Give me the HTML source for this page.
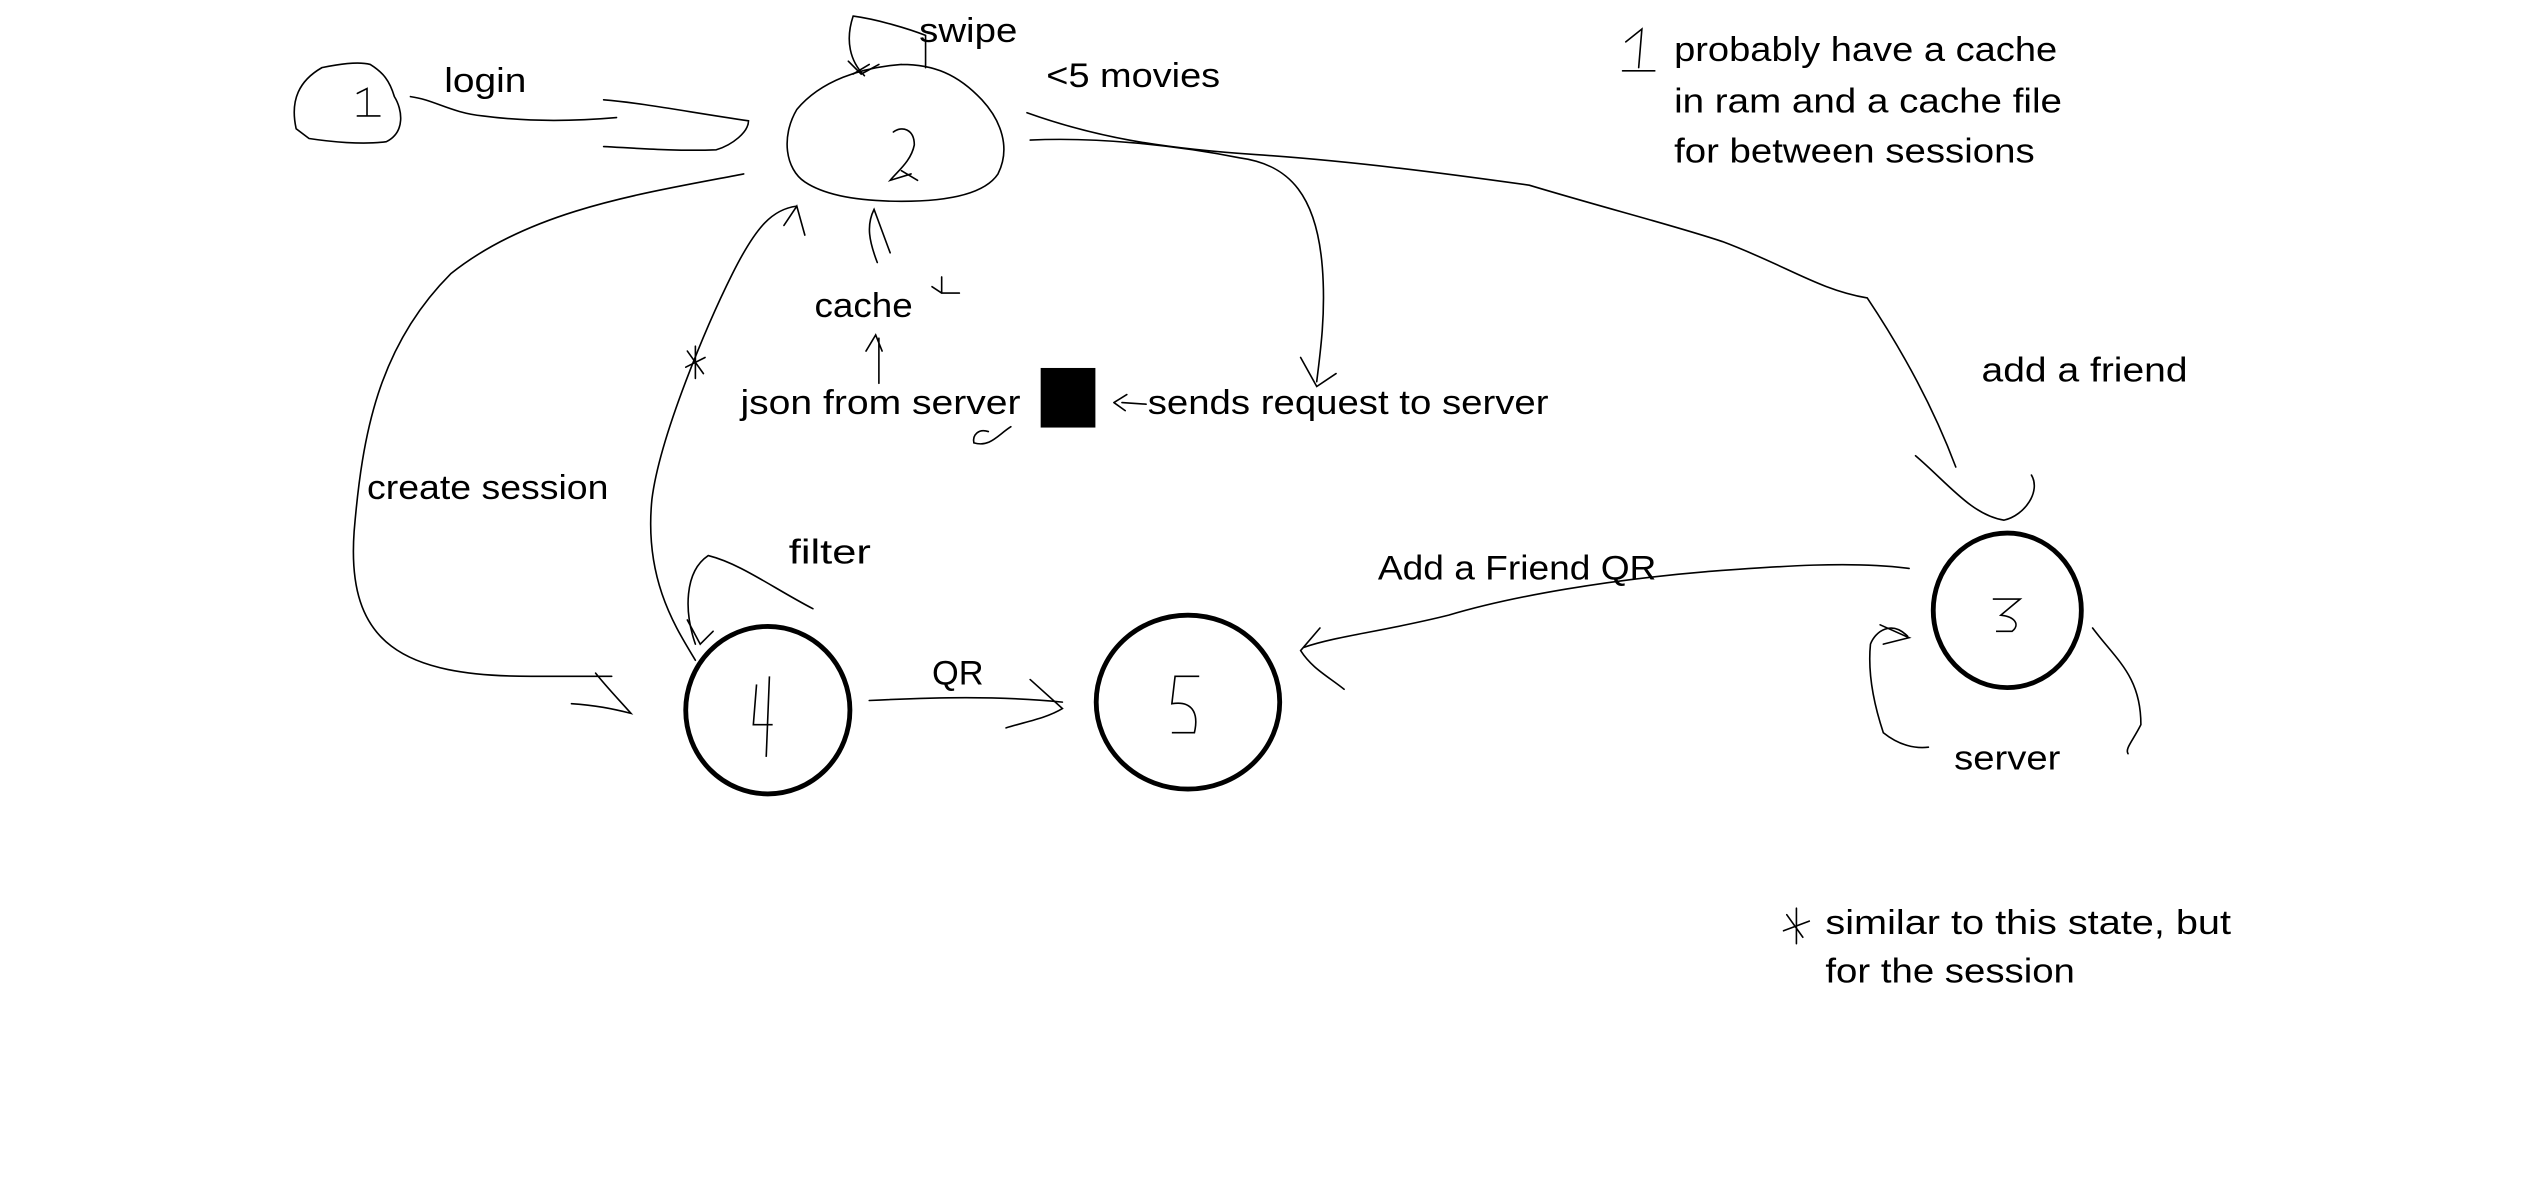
<!DOCTYPE html>
<html><head><meta charset="utf-8"><style>
html,body{margin:0;padding:0;background:#fff;width:2524px;height:1182px;overflow:hidden}
svg{display:block}
text{font-family:"Liberation Sans",sans-serif;font-size:21px;fill:#000;stroke:none}
</style></head><body>
<svg width="2524" height="1182" viewBox="0 0 1568 734" preserveAspectRatio="none">
<g fill="none" stroke="#000" stroke-width="1" stroke-linecap="round">
<path d="M200,42 C186,50 180,62 184,80 L192,86 C205,88 225,90 240,88 C252,82 250,68 245,60 C242,50 238,45 230,40 C222,38 210,40 200,42"/>
<path d="M222,58 L228,55 L228,72 M222,72 L236,72"/>
<text x="276" y="57" textLength="51" lengthAdjust="spacingAndGlyphs">login</text>
<path d="M255,60 C270,62 280,70 300,72 C330,76 360,75 383,73"/>
<path d="M375,62 C400,64 430,70 465,75 C465,82 455,90 445,93 C420,94 395,92 375,91"/>
<path d="M560,40 C535,42 510,50 495,68 C485,85 488,105 500,113 C515,123 540,125 560,125 C590,125 612,120 620,108 C628,92 622,75 610,62 C595,46 580,40 560,40"/>
<path d="M555,82 C560,78 568,80 568,90 C566,100 558,106 553,112 L566,108 M560,106 L570,112"/>
<path d="M537,47 C528,38 525,25 530,10 C545,12 565,18 575,22 L575,42"/>
<path d="M527,38 L535,46 L546,40"/>
<path d="M530,46 L540,40"/>
<text x="571" y="26" textLength="61" lengthAdjust="spacingAndGlyphs">swipe</text>
<text x="650" y="54" textLength="108" lengthAdjust="spacingAndGlyphs">&lt;5 movies</text>
<path d="M640,87 C680,85 730,90 770,98 C800,102 820,120 822,175 C823,200 820,220 818,237"/>
<path d="M808,222 L818,240 L830,232"/>
<path d="M638,70 C680,85 720,92 780,96 C840,100 900,108 950,115 C1000,130 1040,140 1070,150 C1110,165 1130,180 1160,185 C1180,215 1200,250 1215,290"/>
<path d="M1190,283 C1210,300 1225,320 1245,323 C1258,320 1268,305 1262,295"/>
<path d="M462,108 C400,120 330,130 280,170 C235,215 225,270 220,330 C215,400 250,420 330,420 L380,420"/>
<path d="M370,418 C378,428 385,435 392,443 C380,440 370,438 355,437"/>
<text x="228" y="310" textLength="150" lengthAdjust="spacingAndGlyphs">create session</text>
<path d="M432,410 C420,390 400,360 405,310 C410,270 440,200 455,170 C470,140 480,130 495,128"/>
<path d="M487,140 L495,128 L500,146"/>
<path d="M427,218 L437,232 M432,215 L432,235 M426,228 L438,222"/>
<path d="M545,163 C540,150 538,140 543,130 L553,157"/>
<text x="506" y="197" textLength="61" lengthAdjust="spacingAndGlyphs">cache</text>
<path d="M579,178 L585,182 M585,172 L585,182 L596,182"/>
<path d="M546,238 L546,210 M538,218 L544,208 L548,218"/>
<text x="460" y="257" textLength="174" lengthAdjust="spacingAndGlyphs">json from server</text>
<path d="M628,265 C620,270 615,278 605,275 C604,270 608,266 614,268"/>
<rect x="647" y="229" width="33" height="36" fill="#000"/>
<path d="M697,250 L712,251 M692,250 L700,245 M692,250 L699,255"/>
<text x="713" y="257" textLength="249" lengthAdjust="spacingAndGlyphs">sends request to server</text>
<path d="M432,400 C425,380 425,355 440,345 C460,350 480,365 505,378"/>
<path d="M427,385 L435,400 L443,392"/>
<text x="490" y="350" textLength="51" lengthAdjust="spacingAndGlyphs">filter</text>
<path d="M540,435 C580,433 620,432 660,436"/>
<path d="M640,422 L660,440 C650,446 638,448 625,452"/>
<text x="579" y="425" textLength="32" lengthAdjust="spacingAndGlyphs">QR</text>
<path d="M1186,353 C1150,348 1100,352 1060,355 C1000,360 940,370 900,382 C860,392 830,395 810,402"/>
<path d="M820,390 L808,404 C815,415 825,420 835,428"/>
<text x="856" y="360" textLength="173" lengthAdjust="spacingAndGlyphs">Add a Friend QR</text>
<text x="1231" y="237" textLength="128" lengthAdjust="spacingAndGlyphs">add a friend</text>
<path d="M1185,395 C1175,385 1165,392 1162,400 C1160,420 1165,440 1170,455 C1180,463 1190,465 1198,464"/>
<path d="M1300,390 C1315,410 1330,420 1330,450 C1325,460 1320,465 1322,468"/>
<path d="M1168,388 L1186,396 L1170,400"/>
<text x="1214" y="478" textLength="66" lengthAdjust="spacingAndGlyphs">server</text>
<path d="M1010,26 L1020,18 L1018,42 M1008,44 L1028,44"/>
<text x="1040" y="38" textLength="238" lengthAdjust="spacingAndGlyphs">probably have a cache</text>
<text x="1040" y="70" textLength="241" lengthAdjust="spacingAndGlyphs">in ram and a cache file</text>
<text x="1040" y="101" textLength="224" lengthAdjust="spacingAndGlyphs">for between sessions</text>
<path d="M1110,568 L1120,582 M1116,564 L1116,586 M1108,578 L1124,572"/>
<text x="1134" y="580" textLength="252" lengthAdjust="spacingAndGlyphs">similar to this state, but</text>
<text x="1134" y="610" textLength="155" lengthAdjust="spacingAndGlyphs">for the session</text>
</g>
<g fill="none" stroke="#000" stroke-width="3">
<ellipse cx="477" cy="441" rx="51" ry="52"/>
<ellipse cx="738" cy="436" rx="57" ry="54"/>
<ellipse cx="1247" cy="379" rx="46" ry="48"/>
</g>
<g fill="none" stroke="#000" stroke-width="1">
<path d="M470,425 L468,450 L480,450 M478,420 L476,470"/>
<path d="M745,420 L730,420 L728,437 C740,435 745,442 742,455 L728,455"/>
<path d="M1238,372 L1255,372 L1243,382 C1252,383 1255,388 1250,392 L1240,392"/>
</g>
</svg>
</body></html>
